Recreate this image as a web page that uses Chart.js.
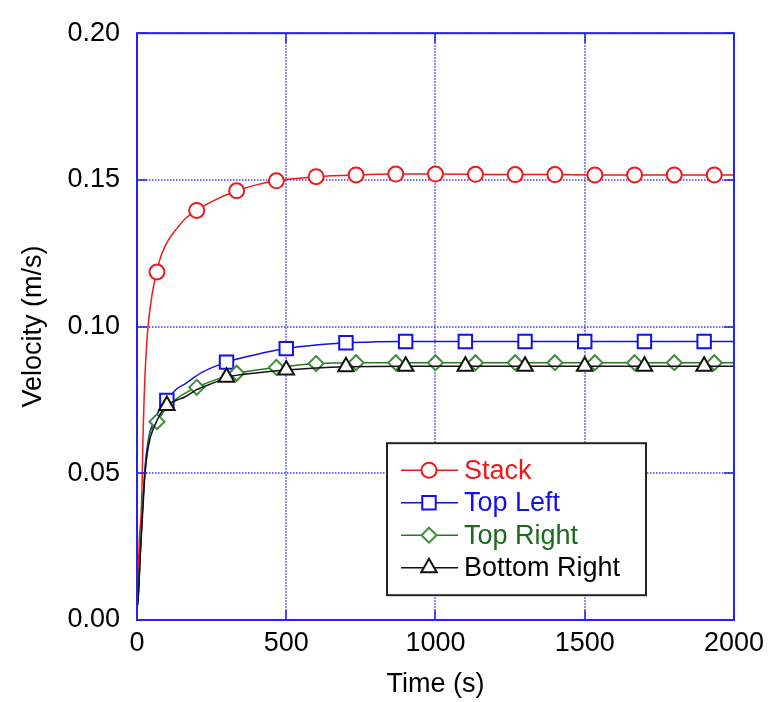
<!DOCTYPE html>
<html>
<head>
<meta charset="utf-8">
<script src="https://cdn.jsdelivr.net/npm/chart.js@4/dist/chart.umd.min.js"></script>
<style>
  html, body { margin: 0; padding: 0; background: #fff; }
  #wrap { width: 771px; height: 702px; }
</style>
</head>
<body>
<div id="wrap"><canvas id="chart" width="771" height="702"></canvas></div>
<script>
// values
const stackTime = [2, 5, 8, 14, 17, 20, 24, 30, 37, 45, 54, 67, 77, 90, 105, 133, 166, 200, 250, 334, 400, 467, 534, 600, 734, 867, 1000, 1134, 1267, 1400, 1534, 1667, 1800, 1934, 2000];
const stackVel  = [0.010, 0.019, 0.028, 0.036, 0.046, 0.062, 0.076, 0.090, 0.100, 0.107, 0.113, 0.1186, 0.123, 0.1265, 0.1295, 0.1334, 0.1372, 0.1396, 0.1426, 0.1463, 0.1483, 0.1497, 0.1505, 0.1511, 0.1517, 0.1520, 0.1520, 0.1519, 0.1518, 0.1518, 0.1517, 0.1517, 0.1517, 0.1517, 0.1517];
const stackMarks = [67, 200, 334, 467, 600, 734, 867, 1000, 1134, 1267, 1400, 1534, 1667, 1800, 1934];

const topLeftTime = [3, 7, 12, 17, 22, 27, 33, 43, 54, 67, 80, 100, 130, 160, 216, 300, 400, 500, 600, 700, 800, 900, 1100, 1300, 1500, 1700, 1900, 2000];
const topLeftVel  = [0.006, 0.014, 0.025, 0.035, 0.044, 0.052, 0.058, 0.064, 0.067, 0.070, 0.0725, 0.0748, 0.0785, 0.0804, 0.0843, 0.0879, 0.0905, 0.0925, 0.0937, 0.0945, 0.0948, 0.0949, 0.0949, 0.0949, 0.0949, 0.0949, 0.0949, 0.0949];
const topLeftMarks = [100, 300, 500, 700, 900, 1100, 1300, 1500, 1700, 1900];

const topRightTime = [3, 7, 12, 17, 22, 27, 33, 43, 55, 67, 100, 140, 200, 267, 334, 400, 467, 534, 600, 734, 867, 1000, 1134, 1267, 1400, 1534, 1667, 1800, 1934, 2000];
const topRightVel  = [0.006, 0.014, 0.025, 0.035, 0.044, 0.051, 0.056, 0.0637, 0.066, 0.0676, 0.0725, 0.0760, 0.0793, 0.0820, 0.0841, 0.0852, 0.0861, 0.0868, 0.0874, 0.0877, 0.0877, 0.0877, 0.0877, 0.0877, 0.0877, 0.0877, 0.0877, 0.0877, 0.0877, 0.0877];
const topRightMarks = [67, 200, 334, 467, 600, 734, 867, 1000, 1134, 1267, 1400, 1534, 1667, 1800, 1934];

const bottomRightTime = [3, 7, 12, 17, 22, 27, 33, 43, 54, 67, 80, 100, 130, 160, 200, 261, 300, 400, 500, 600, 700, 900, 1100, 1300, 1500, 1700, 1900, 2000];
const bottomRightVel  = [0.005, 0.013, 0.024, 0.033, 0.042, 0.050, 0.056, 0.0615, 0.065, 0.068, 0.0705, 0.0731, 0.0748, 0.0760, 0.0785, 0.0810, 0.0827, 0.0842, 0.0852, 0.0859, 0.0863, 0.0865, 0.0865, 0.0865, 0.0865, 0.0865, 0.0865, 0.0865];
const bottomRightMarks = [100, 300, 500, 700, 900, 1100, 1300, 1500, 1700, 1900];

const seriesNames = ['Stack', 'Top Left', 'Top Right', 'Bottom Right'];
const yTicks = [0, 0.05, 0.10, 0.15, 0.20];
const xTicks = [0, 500, 1000, 1500, 2000];

const FONT = '"Liberation Sans", Arial, sans-serif';
const FRAME = '#2424ee';

function points(times, vals) {
  return times.map((t, i) => ({x: t, y: vals[i]}));
}

function series(label, times, vals, marks, color, style, radius, textColor, markColor, order) {
  return {
    label: label,
    data: points(times, vals),
    borderColor: color,
    borderWidth: 1.5,
    pointStyle: style,
    pointRadius: ctx => marks.includes(ctx.raw.x) ? radius : 0,
    pointHoverRadius: 0,
    pointBackgroundColor: '#fff',
    pointBorderColor: markColor,
    pointBorderWidth: 2,
    cubicInterpolationMode: 'monotone',
    textColor: textColor,
    markRadius: radius,
    order: order
  };
}

const datasets = [
  series(seriesNames[0], stackTime, stackVel, stackMarks, '#f01818', 'circle', 7.5, '#f01818', '#f01818', 3),
  series(seriesNames[1], topLeftTime, topLeftVel, topLeftMarks, '#1010f0', 'rect', 9.5, '#1010f0', '#1010f0', 2),
  series(seriesNames[2], topRightTime, topRightVel, topRightMarks, '#237a23', 'rectRot', 7.5, '#1b6a1b', '#3d8d3d', 1),
  series(seriesNames[3], bottomRightTime, bottomRightVel, bottomRightMarks, '#111', 'triangle', 9, '#000', '#111', 0)
];

// dotted grid under the data
const gridPlugin = {
  id: 'dotGrid',
  beforeDatasetsDraw(chart) {
    const {ctx, chartArea: a, scales} = chart;
    ctx.save();
    ctx.strokeStyle = '#3a3aff';
    ctx.lineWidth = 1.5;
    ctx.setLineDash([1.5, 1.5]);
    ctx.beginPath();
    xTicks.forEach(v => {
      const x = Math.round(scales.x.getPixelForValue(v));
      ctx.moveTo(x, a.top); ctx.lineTo(x, a.bottom);
    });
    yTicks.forEach(v => {
      const y = Math.round(scales.y.getPixelForValue(v));
      ctx.moveTo(a.left, y); ctx.lineTo(a.right, y);
    });
    ctx.stroke();
    ctx.restore();
  }
};

// frame with short inward ticks, drawn over the data
const framePlugin = {
  id: 'frame',
  afterDatasetsDraw(chart) {
    const {ctx, chartArea: a, scales} = chart;
    ctx.save();
    ctx.strokeStyle = FRAME;
    ctx.lineWidth = 2;
    ctx.strokeRect(a.left, a.top, a.right - a.left, a.bottom - a.top);
    ctx.lineWidth = 1.5;
    ctx.beginPath();
    xTicks.forEach(v => {
      const x = Math.round(scales.x.getPixelForValue(v));
      ctx.moveTo(x, a.bottom); ctx.lineTo(x, a.bottom - 10);
      ctx.moveTo(x, a.top); ctx.lineTo(x, a.top + 10);
    });
    yTicks.forEach(v => {
      const y = Math.round(scales.y.getPixelForValue(v));
      ctx.moveTo(a.left, y); ctx.lineTo(a.left + 10, y);
      ctx.moveTo(a.right, y); ctx.lineTo(a.right - 10, y);
    });
    ctx.stroke();
    ctx.restore();
  }
};

// legend box: line with marker in the middle, coloured text
const legendPlugin = {
  id: 'boxLegend',
  afterDraw(chart) {
    const {ctx, chartArea: a} = chart;
    const left = a.left + 250, top = a.top + 410, w = 259, h = 152;
    ctx.save();
    ctx.fillStyle = '#fff';
    ctx.fillRect(left, top, w, h);
    ctx.strokeStyle = '#222';
    ctx.lineWidth = 2;
    ctx.strokeRect(left, top, w, h);
    chart.data.datasets.forEach((ds, i) => {
      const y = top + 27 + i * 32.5;
      ctx.strokeStyle = ds.borderColor;
      ctx.lineWidth = 1.5;
      ctx.beginPath();
      ctx.moveTo(left + 14, y);
      ctx.lineTo(left + 71, y);
      ctx.stroke();
      ctx.fillStyle = '#fff';
      ctx.strokeStyle = ds.pointBorderColor;
      ctx.lineWidth = 2;
      Chart.helpers.drawPoint(ctx, {pointStyle: ds.pointStyle, radius: ds.markRadius, borderWidth: 2, rotation: 0}, left + 42, y);
      ctx.fillStyle = ds.textColor;
      ctx.font = '27px ' + FONT;
      ctx.textBaseline = 'middle';
      ctx.textAlign = 'left';
      ctx.fillText(ds.label, left + 77, y + 1);
    });
    ctx.restore();
  }
};

const axisGrid = {display: true, drawOnChartArea: false, drawTicks: false, lineWidth: 0, color: 'rgba(0,0,0,0)'};

new Chart(document.getElementById('chart'), {
  type: 'line',
  data: {datasets: datasets},
  plugins: [gridPlugin, framePlugin, legendPlugin],
  options: {
    responsive: false,
    animation: false,
    events: [],
    layout: {padding: {top: 23, right: 36, left: 0, bottom: 0}},
    plugins: {legend: {display: false}, tooltip: {enabled: false}},
    scales: {
      x: {
        type: 'linear',
        min: 0, max: 2000,
        afterFit: s => { s.height = 82; },
        afterBuildTicks: s => { s.ticks = xTicks.map(v => ({value: v})); },
        border: {display: false},
        grid: axisGrid,
        ticks: {color: '#000', font: {family: FONT, size: 27}, padding: 7, maxRotation: 0, callback: v => String(v)},
        title: {display: true, text: 'Time (s)', color: '#000', font: {family: FONT, size: 27}, padding: {top: 1, bottom: 1}}
      },
      y: {
        min: 0, max: 0.20,
        afterFit: s => { s.width = 137; },
        afterBuildTicks: s => { s.ticks = yTicks.map(v => ({value: v})); },
        border: {display: false},
        grid: axisGrid,
        ticks: {color: '#000', font: {family: FONT, size: 27}, padding: 17, callback: v => v.toFixed(2)},
        title: {display: true, text: 'Velocity (m/s)', color: '#000', font: {family: FONT, size: 27}, padding: {top: 17, bottom: 17}}
      }
    }
  }
});
</script>
</body>
</html>
